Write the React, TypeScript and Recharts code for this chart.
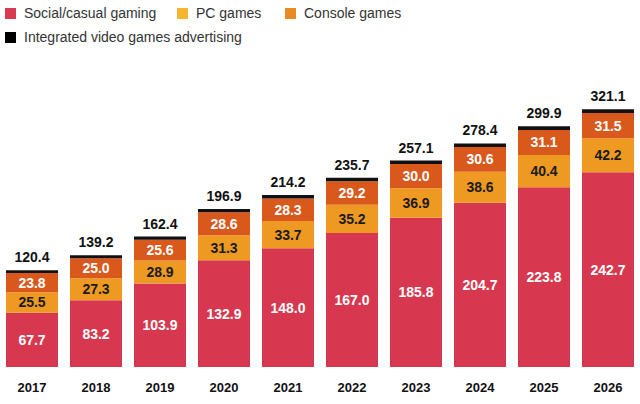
import React from "react";
import { BarChart, Bar, XAxis, YAxis, LabelList } from "recharts";

const years = ["2017", "2018", "2019", "2020", "2021", "2022", "2023", "2024", "2025", "2026"];
const social = [67.7, 83.2, 103.9, 132.9, 148.0, 167.0, 185.8, 204.7, 223.8, 242.7];
const pc = [25.5, 27.3, 28.9, 31.3, 33.7, 35.2, 36.9, 38.6, 40.4, 42.2];
const consoleG = [23.8, 25.0, 25.6, 28.6, 28.3, 29.2, 30.0, 30.6, 31.1, 31.5];
const advertising = [3.4, 3.7, 4.0, 4.1, 4.2, 4.3, 4.4, 4.5, 4.6, 4.7];
const totals = [120.4, 139.2, 162.4, 196.9, 214.2, 235.7, 257.1, 278.4, 299.9, 321.1];

const data = years.map((y, i) => ({
  year: y,
  social: social[i],
  pc: pc[i],
  console: consoleG[i],
  adv: advertising[i],
  total: totals[i],
}));

const FONT = "'Liberation Sans', Arial, Helvetica, sans-serif";
const C_SOCIAL = "#d8384f";
const C_PC = "#ee9a22";
const C_CONSOLE = "#d9581c";
const C_ADV = "#111111";

const legendItems = [
  { label: "Social/casual gaming", color: "#d93a52", x: 5, y: 5 },
  { label: "PC games", color: "#f6b52c", x: 177, y: 5 },
  { label: "Console games", color: "#ea8a22", x: 285, y: 5 },
  { label: "Integrated video games advertising", color: "#000000", x: 5, y: 29 },
];

const fmt = (v: any) => Number(v).toFixed(1);

export default function App() {
  return (
    <div style={{ position: "absolute", left: 0, top: 0, width: 640, height: 404, background: "#fff", fontFamily: FONT }}>
      {legendItems.map((it) => (
        <div key={it.label} style={{ position: "absolute", left: it.x, top: it.y, display: "flex", alignItems: "center", height: 16 }}>
          <div style={{ width: 11, height: 11, background: it.color, marginRight: 8 }} />
          <span style={{ fontSize: 14, color: "#333", whiteSpace: "nowrap" }}>{it.label}</span>
        </div>
      ))}
      <div style={{ position: "absolute", left: 0, top: 0 }}>
        <BarChart width={640} height={404} data={data} margin={{ top: 86, right: 0, bottom: 0, left: 0 }} barCategoryGap={6}>
          <XAxis
            dataKey="year"
            axisLine={false}
            tickLine={false}
            height={37}
            tickMargin={10}
            tick={{ fontSize: 13, fontWeight: 700, fill: "#111", fontFamily: FONT }}
          />
          <YAxis hide domain={[0, 350]} />
          <Bar dataKey="social" stackId="a" fill={C_SOCIAL} isAnimationActive={false}>
            <LabelList dataKey="social" position="center" formatter={fmt} style={{ fill: "#fff", fontSize: 14, fontWeight: 700, fontFamily: FONT }} />
          </Bar>
          <Bar dataKey="pc" stackId="a" fill={C_PC} isAnimationActive={false}>
            <LabelList dataKey="pc" position="center" formatter={fmt} style={{ fill: "#1a1a1a", fontSize: 14, fontWeight: 700, fontFamily: FONT }} />
          </Bar>
          <Bar dataKey="console" stackId="a" fill={C_CONSOLE} isAnimationActive={false}>
            <LabelList dataKey="console" position="center" formatter={fmt} style={{ fill: "#fff", fontSize: 14, fontWeight: 700, fontFamily: FONT }} />
          </Bar>
          <Bar dataKey="adv" stackId="a" fill={C_ADV} isAnimationActive={false}>
            <LabelList dataKey="total" position="top" offset={8} formatter={fmt} style={{ fill: "#111", fontSize: 14, fontWeight: 700, fontFamily: FONT }} />
          </Bar>
        </BarChart>
      </div>
    </div>
  );
}
